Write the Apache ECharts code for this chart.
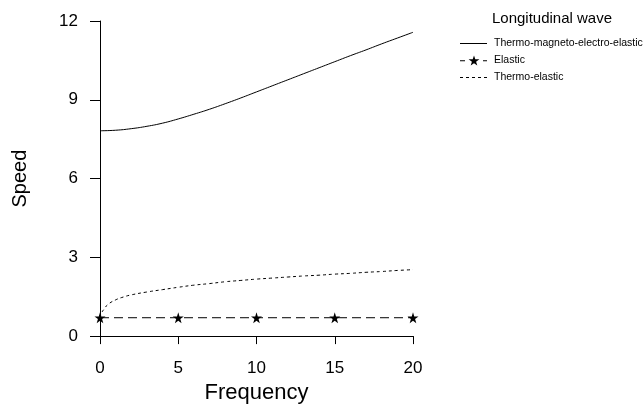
<!DOCTYPE html>
<html>
<head>
<meta charset="utf-8">
<script src="https://cdn.jsdelivr.net/npm/echarts@6/dist/echarts.min.js"></script>
<style>
html,body{margin:0;padding:0;background:#fff;}
#chart{width:644px;height:409px;}
</style>
</head>
<body>
<div id="chart"></div>
<script>
// ---- data ----
const xTicks = [0, 5, 10, 15, 20];
const yTicks = [0, 3, 6, 9, 12];

const tmeeFreq  = [0, 1, 2, 3, 4, 5, 6, 7, 8, 9, 10, 11, 12, 13, 14, 15, 16, 17, 18, 19, 20];
const tmeeSpeed = [7.82, 7.84, 7.90, 7.99, 8.11, 8.27, 8.45, 8.64, 8.85, 9.07, 9.30, 9.53, 9.76, 9.99, 10.22, 10.45, 10.68, 10.90, 11.13, 11.35, 11.57];

const elasticFreq  = [0, 5, 10, 15, 20];
const elasticSpeed = [0.70, 0.70, 0.70, 0.70, 0.70];

const teFreq  = [0, 0.1, 0.25, 0.5, 1, 1.5, 2, 3, 4, 5, 6, 7, 8, 9, 10, 11, 12, 13, 14, 15, 16, 17, 18, 19, 20];
const teSpeed = [0.70, 0.88, 1.02, 1.20, 1.38, 1.49, 1.57, 1.68, 1.77, 1.86, 1.94, 2.00, 2.07, 2.12, 2.17, 2.21, 2.25, 2.29, 2.32, 2.36, 2.39, 2.43, 2.46, 2.50, 2.53];

const names = ['Thermo-magneto-electro-elastic', 'Elastic', 'Thermo-elastic'];
const legendTitle = 'Longitudinal wave';
const xName = 'Frequency';
const yName = 'Speed';

const pair = (xs, ys) => xs.map((x, i) => [x, ys[i]]);
const star = 'path://M50,0 L61,35 L98,35 L68,57 L79,91 L50,70 L21,91 L32,57 L2,35 L39,35 Z';
// legend icons (27 x 10 box)
const iconSolid  = 'path://M0,4.5 L27,4.5 L27,5.5 L0,5.5 Z';
const iconDotted = 'path://M0,4.5 h3 v1 h-3 Z M6,4.5 h3 v1 h-3 Z M12,4.5 h3 v1 h-3 Z M18,4.5 h3 v1 h-3 Z M24,4.5 h3 v1 h-3 Z';
const iconStar   = 'path://M0,4.5 h5 v1 h-5 Z M23,4.5 h4 v1 h-4 Z ' +
  'M14,-0.3 L15.3,3.5 L19.4,3.5 L16.1,5.9 L17.3,9.7 L14,7.4 L10.7,9.7 L11.9,5.9 L8.6,3.5 L12.7,3.5 Z';
const FONT = 'Liberation Sans, Arial, Helvetica, sans-serif';

const chart = echarts.init(document.getElementById('chart'), null, {renderer: 'canvas'});
chart.setOption({
  animation: false,
  backgroundColor: '#fff',
  textStyle: {fontFamily: FONT, color: '#000'},
  title: {
    text: legendTitle,
    left: 547, top: 6,
    textAlign: 'center',
    textStyle: {fontFamily: FONT, fontSize: 15, fontWeight: 'normal', color: '#000'}
  },
  legend: {
    orient: 'vertical',
    left: 455, top: 33,
    itemWidth: 27, itemHeight: 14,
    itemGap: 6,
    data: [
      {name: names[0], icon: iconSolid},
      {name: names[1], icon: iconStar},
      {name: names[2], icon: iconDotted}
    ],
    itemStyle: {color: '#000', borderWidth: 0},
    lineStyle: {width: 0},
    textStyle: {fontFamily: FONT, fontSize: 10.5, color: '#000', padding: [0, 0, 0, 2]}
  },
  grid: {left: 100, right: 231, top: 21, bottom: 72, containLabel: false},
  xAxis: {
    type: 'value', min: 0, max: 20, interval: 5,
    name: xName, nameLocation: 'middle', nameGap: 41,
    nameTextStyle: {fontFamily: FONT, fontSize: 22, color: '#000'},
    axisLine: {show: true, onZero: false, lineStyle: {color: '#000', width: 1}},
    axisTick: {show: true, length: 8, lineStyle: {color: '#000'}},
    axisLabel: {fontFamily: FONT, fontSize: 17, color: '#000', margin: 24},
    splitLine: {show: false}
  },
  yAxis: {
    type: 'value', min: 0, max: 12, interval: 3,
    name: yName, nameLocation: 'middle', nameGap: 70,
    nameTextStyle: {fontFamily: FONT, fontSize: 20, color: '#000'},
    axisLine: {show: true, onZero: false, lineStyle: {color: '#000', width: 1}},
    axisTick: {show: true, length: 10, lineStyle: {color: '#000'}},
    axisLabel: {fontFamily: FONT, fontSize: 17, color: '#000', margin: 22},
    splitLine: {show: false}
  },
  series: [
    {
      name: names[0], type: 'line', data: pair(tmeeFreq, tmeeSpeed),
      symbol: 'none', smooth: true,
      lineStyle: {color: '#000', width: 1, type: 'solid'},
      itemStyle: {color: '#000'}
    },
    {
      name: names[1], type: 'line', data: pair(elasticFreq, elasticSpeed),
      symbol: star, symbolSize: 11,
      lineStyle: {color: '#000', width: 1, type: [9, 5]},
      itemStyle: {color: '#000'}
    },
    {
      name: names[2], type: 'line', data: pair(teFreq, teSpeed),
      symbol: 'none', smooth: true,
      lineStyle: {color: '#000', width: 1, type: [3, 3]},
      itemStyle: {color: '#000'}
    }
  ]
});
</script>
</body>
</html>
